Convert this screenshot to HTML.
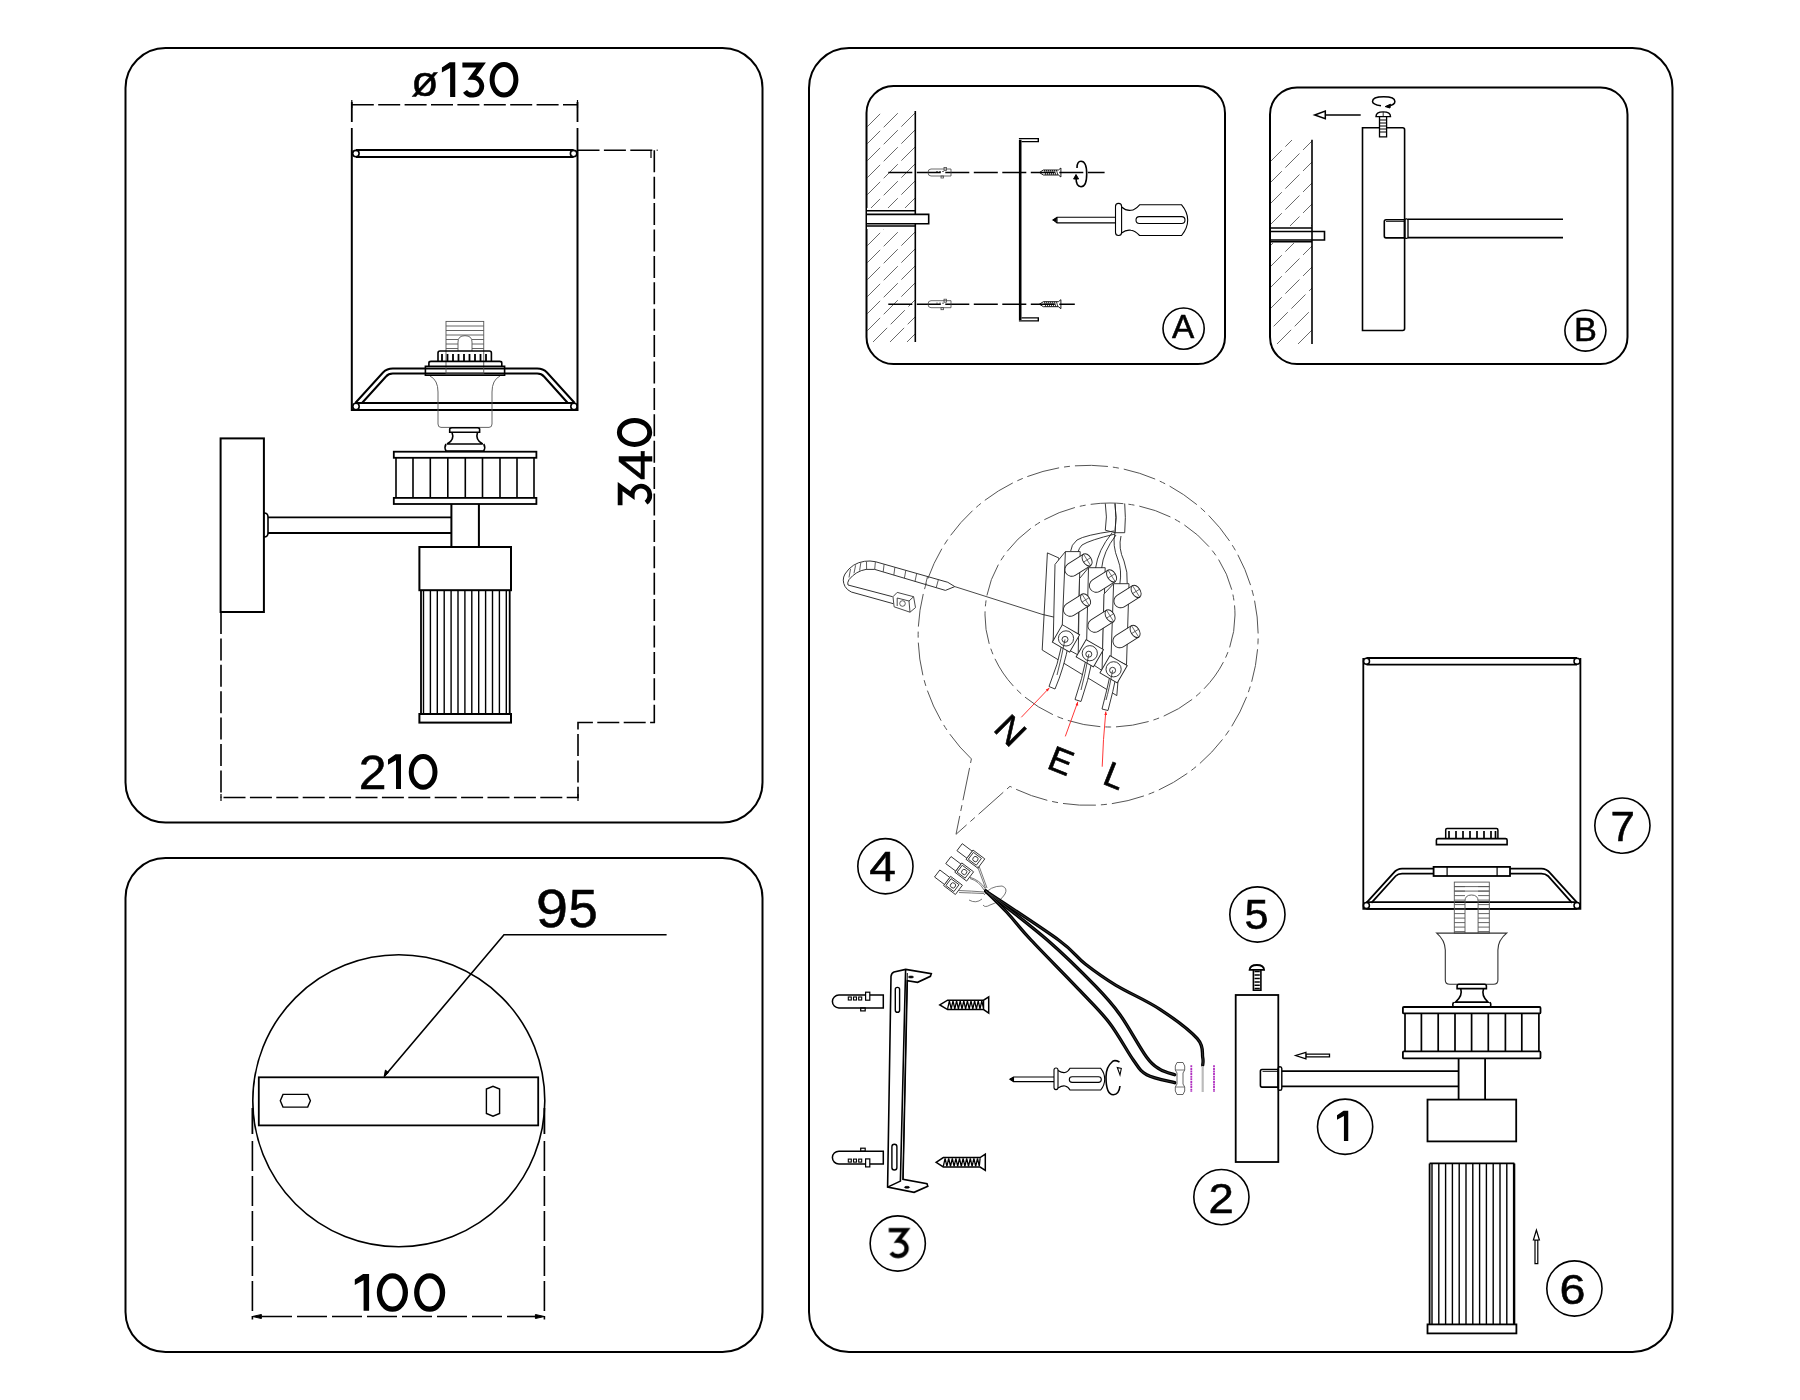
<!DOCTYPE html>
<html><head><meta charset="utf-8">
<style>
html,body{margin:0;padding:0;background:#fff;width:1800px;height:1400px;overflow:hidden}
svg{display:block}
text{font-family:"Liberation Sans",sans-serif}
</style></head>
<body>
<svg width="1800" height="1400" viewBox="0 0 1800 1400">
<rect x="0" y="0" width="1800" height="1400" fill="#fff"/>
<g fill="none" stroke="#000" stroke-width="2">
<!-- panels -->
<rect x="125.5" y="48" width="637" height="774.5" rx="40"/>
<rect x="125.5" y="858" width="637" height="494" rx="40"/>
<rect x="809" y="48" width="863.5" height="1304" rx="40"/>
<rect x="866.5" y="86" width="358.5" height="278" rx="27"/>
<rect x="1270" y="87.5" width="357.5" height="276.5" rx="27"/>
</g>
<!-- PANEL1 -->
<g id="p1">
<g fill="none" stroke="#000" stroke-width="2">
 <!-- dims -->
 <g stroke-width="1.6" stroke-dasharray="22 4.4">
  <path d="M351.8 104.7H577.5"/>
  <path d="M577.5 150.3H657.6"/>
  <path d="M654.3 150.3V722.5H578V797.5H221"/>
  <path d="M221 612V797.5"/>
 </g>
 <path d="M351.8 102V122M351.8 128V150M577.5 102V122M577.5 128V150" stroke-width="1.8"/>
 <path d="M351.8 100V108M577.5 100V108M651 150V158M221 794V801M578 794V801" stroke-width="1.2"/>
 <!-- shade -->
 <path d="M351.8 150V410H577.5V150"/>
 <path d="M355.9 150H573.6M355.9 157H573.6M356 403H574M356 410H574"/>
 <circle cx="355.9" cy="153.6" r="3.2" stroke-width="1.6"/>
 <circle cx="573.6" cy="153.6" r="3.2" stroke-width="1.6"/>
 <circle cx="356" cy="406.5" r="3.2" stroke-width="1.6"/>
 <circle cx="574" cy="406.5" r="3.2" stroke-width="1.6"/>
 <!-- gallery -->
 <path d="M355.3 403L383 372.5Q387 368.6 392.8 368.6H537.2Q543 368.6 547 372.5L574.7 403"/>
 <path d="M362 403L386 376.5Q388.5 373.6 392.8 373.6H537.2Q541.5 373.6 544 376.5L567.8 403"/>
 <!-- socket -->
 <g stroke="#555" stroke-width="0.9">
  <rect x="446" y="321.4" width="37.75" height="51.8"/>
  <path d="M446 326H483.75M446 330.5H483.75M446 335H483.75M446 339.5H458M472 339.5H483.75M446 344H458M472 344H483.75M446 348.5H458M472 348.5H483.75"/>
  <path d="M458 351V342Q458 335.7 465 335.7Q472 335.7 472 342V351"/>
  <path d="M430 376Q438 380 438 392V424Q438 427.4 441 427.4H489Q492 427.4 492 424V392Q492 380 500 376"/>
 </g>
 <path d="M438 361.4V353Q438 351 440 351H489.4Q491.4 351 491.4 353V361.4" stroke-width="1.6"/>
 <path d="M442 361V354M447.5 361V354M453 361V354M458.5 361V354M464 361V354M469.5 361V354M475 361V354M480.5 361V354M486 361V354" stroke-width="1.8"/>
 <path d="M428.9 366.2V363Q428.9 361.4 431 361.4H499.7Q501.8 361.4 501.8 363V366.2" stroke-width="1.6"/>
 <path d="M425.4 366.2H504.6V375.3H425.4Z" stroke-width="1.6"/>
 <!-- knob -->
 <path d="M449.7 432.2V429Q449.7 427.8 452 427.8H477.5Q479.6 427.8 479.6 429V432.2ZM452 432.2Q455 440 447 444H482.75Q475 440 477.5 432.2M446 444Q444 447.5 446 451H483.75Q485.75 447.5 483.75 444" stroke-width="1.6"/>
 <!-- crown -->
 <rect x="393.8" y="451.7" width="142.6" height="6.1" stroke-width="1.8"/>
 <rect x="393.8" y="497.9" width="142.6" height="6.1" stroke-width="1.8"/>
 <path d="M396 457.8V497.9M534 457.8V497.9M413 457.8V497.9M430.3 457.8V497.9M447.8 457.8V497.9M465.3 457.8V497.9M482.5 457.8V497.9M500 457.8V497.9M517 457.8V497.9" stroke-width="1.6"/>
 <!-- backplate & arm -->
 <rect x="220.6" y="438.4" width="43.3" height="173.6"/>
 <path d="M264 513Q268 513 268 517V533Q268 537 264 537" stroke-width="1.6"/>
 <path d="M268 517.3H451.4M268 533H451.4" stroke-width="1.8"/>
 <path d="M451.4 504V547M478.9 504V547"/>
 <rect x="419.4" y="547" width="91.6" height="43.2"/>
 <rect x="419.4" y="714" width="91.6" height="8.6"/>
 <path d="M421 590.2V714M509.7 590.2V714" stroke-width="1.8"/>
 <path d="M423.5 590V714M430.4 590V714M437.3 590V714M444.2 590V714M451.1 590V714M458 590V714M464.9 590V714M471.8 590V714M478.7 590V714M485.6 590V714M492.5 590V714M499.4 590V714M506.3 590V714" stroke-width="1.4"/>
</g>
<g fill="#000" font-size="47">
 
 
 
</g>
</g>
<!-- PANEL2 -->
<g id="p2">
<g fill="none" stroke="#000" stroke-width="1.6">
 <circle cx="398.8" cy="1100.8" r="146"/>
 <rect x="258.8" y="1077.3" width="279.4" height="48.1" fill="#fff" stroke-width="1.8"/>
 <path d="M283 1094.4H307.7L310.4 1100.75L307.7 1107.1H283L280.3 1100.75Z" stroke-width="1.4"/>
 <path d="M486.4 1089V1113.5L493 1116.2L499.6 1113.5V1089L493 1086.3Z" stroke-width="1.4"/>
 <path d="M384.2 1076.6L504 934.8H666.6" stroke-width="1.6"/>
 <path d="M384.2 1076.6l1.2 -6.5l3 2.5z" fill="#000" stroke-width="1"/>
 <g stroke-width="1.6" stroke-dasharray="30 5">
  <path d="M252.4 1141V1319.6M544.4 1141V1319.6"/>
  <path d="M258 1316.5H540" stroke-dashoffset="-4"/>
 </g>
 <path d="M252.4 1108V1134M544.4 1108V1134" stroke-width="1.8"/>
 <path d="M252.4 1316.5l9 -2v4zM544.4 1316.5l-9 -2v4z" fill="#000" stroke-width="1"/>
</g>
<g fill="#000" font-size="52">
 
 
</g>
</g>
<!-- PANEL A -->
<g id="pA">
<defs><clipPath id="clipA"><rect x="867" y="111" width="48" height="231"/></clipPath><clipPath id="clipB"><rect x="1271" y="140" width="41" height="204"/></clipPath></defs>
<g fill="none" stroke="#000">
 <path d="M866.0 128.0L883.0 111.0M866.0 145.0L900.0 111.0M866.0 162.0L915.0 113.0M866.0 179.0L915.0 130.0M866.0 196.0L915.0 147.0M866.0 213.0L915.0 164.0M866.0 230.0L915.0 181.0M866.0 247.0L915.0 198.0M866.0 264.0L915.0 215.0M866.0 281.0L915.0 232.0M866.0 298.0L915.0 249.0M866.0 315.0L915.0 266.0M866.0 332.0L915.0 283.0M873.0 342.0L915.0 300.0M890.0 342.0L915.0 317.0M907.0 342.0L915.0 334.0" stroke="#444" stroke-width="0.8" stroke-dasharray="20 5" clip-path="url(#clipA)"/>
 <rect x="867" y="208" width="62" height="21" fill="#fff" stroke="none"/>
 <path d="M915.3 111V342" stroke-width="1.6"/>
 <path d="M867 210.8H915.3M867 226H915.3" stroke-width="1.5"/>
 <path d="M867 214.4H928.7V223.7H867" stroke-width="1.6" fill="#fff"/>
 <path d="M888.3 172.5H1104.6M888.3 304.2H1074.8" stroke-width="1.6" stroke-dasharray="24 4.5"/>
 <g stroke-width="0.8" stroke="#444"><path d="M931 169.0H951V176.0H931Q928 176.0 928 172.5Q928 169.0 931 169.0Z"/><path d="M936 171.5h2M939 171.5h2M942 171.5h2"/><rect x="944" y="167.5" width="2.5" height="3"/><rect x="941" y="176.0" width="2.5" height="2"/></g>
 <g stroke-width="0.8" stroke="#444"><path d="M931 300.7H951V307.7H931Q928 307.7 928 304.2Q928 300.7 931 300.7Z"/><path d="M936 303.2h2M939 303.2h2M942 303.2h2"/><rect x="944" y="299.2" width="2.5" height="3"/><rect x="941" y="307.7" width="2.5" height="2"/></g>
 <path d="M1020.2 139.8V320" stroke-width="2.6"/><path d="M1018.9 138.6H1038.3V141.6H1021.5M1018.9 320.9H1038.3V317.9H1021.5" stroke-width="1.4"/>
 <g stroke-width="0.9"><path d="M1039.4 172.5L1043.4 170.0H1058.4L1060.9 168.0V177.0L1058.4 175.0H1043.4Z"/><path d="M1044.4 170.0l1.5 5M1046.4 170.0l1.5 5M1048.4 170.0l1.5 5M1050.4 170.0l1.5 5M1052.4 170.0l1.5 5M1054.4 170.0l1.5 5M1056.4 170.0l1.5 5" stroke-width="0.8"/></g>
 <g stroke-width="0.9"><path d="M1039.4 304.2L1043.4 301.7H1058.4L1060.9 299.7V308.7L1058.4 306.7H1043.4Z"/><path d="M1044.4 301.7l1.5 5M1046.4 301.7l1.5 5M1048.4 301.7l1.5 5M1050.4 301.7l1.5 5M1052.4 301.7l1.5 5M1054.4 301.7l1.5 5M1056.4 301.7l1.5 5" stroke-width="0.8"/></g>
 <path d="M1077 168Q1077 161.3 1081 161.3Q1086.7 161.3 1086.7 174Q1086.7 186.7 1081 186.7Q1076 186.7 1076 177" stroke-width="1.6"/>
 <path d="M1073.6 179L1076 174.5L1078.6 179Z" fill="#000" stroke-width="1"/>
 <!-- screwdriver -->
 <g stroke-width="1.1">
  <path d="M1053.1 219.9L1057 217.2H1115.5M1053.1 219.9L1057 222.9H1115.5M1057 217.2V222.9"/>
  <path d="M1053.1 219.9l3 -1.3v2.6z" fill="#000"/>
  <rect x="1115.5" y="203.4" width="6.1" height="32.1" rx="3"/>
  <path d="M1121.6 207Q1126 211 1131 210.3Q1135 210 1139.6 204.8H1181.6Q1187.7 212 1187.7 220Q1187.7 228 1181.6 235.5H1139.6Q1135 230.6 1131 230.3Q1126 229.5 1121.6 233"/>
  <rect x="1136" y="216.6" width="49" height="6.9" rx="3.45"/>
 </g>
 
</g>

</g>
<!-- PANEL B -->
<g id="pB">
<g fill="none" stroke="#000">
 <path d="M1250.0 161.0L1271.0 140.0M1250.0 182.0L1292.0 140.0M1250.0 203.0L1312.0 141.0M1250.0 224.0L1312.0 162.0M1250.0 245.0L1312.0 183.0M1250.0 266.0L1312.0 204.0M1250.0 287.0L1312.0 225.0M1250.0 308.0L1312.0 246.0M1250.0 329.0L1312.0 267.0M1256.0 344.0L1312.0 288.0M1277.0 344.0L1312.0 309.0M1298.0 344.0L1312.0 330.0" stroke="#444" stroke-width="0.8" stroke-dasharray="20 5" clip-path="url(#clipB)"/>
 <rect x="1271" y="226" width="54" height="17" fill="#fff" stroke="none"/>
 <path d="M1312 139.8V344" stroke-width="1.6"/>
 <path d="M1271 228H1312M1271 241.7H1312" stroke-width="1.5"/>
 <path d="M1271 231.5H1324.5V240H1271" stroke-width="1.6"/>
 <path d="M1362.5 330.5V127.7H1402.6Q1404.6 127.7 1404.6 129.7V328.5Q1404.6 330.5 1402.6 330.5Z" stroke-width="1.6"/>
 <path d="M1408 219.3H1563M1408 237.6H1563" stroke-width="1.6"/>
 <path d="M1386 219.7H1404.6V237.9H1386Q1384.3 237.9 1384.3 236V221.6Q1384.3 219.7 1386 219.7Z" stroke-width="1.6"/>
 <rect x="1404.6" y="218.8" width="3.4" height="19.6" rx="1.5" stroke-width="1.3"/>
 <path d="M1386 221.5H1404.6" stroke-width="0.8"/>
 <!-- screw -->
 <path d="M1379.5 116.6V136.9H1386.6V116.6" stroke-width="1.3" fill="#fff"/>
 <path d="M1379.5 120H1386.6M1379.5 123H1386.6M1379.5 126H1386.6M1379.5 129H1386.6M1379.5 132H1386.6" stroke-width="1.2"/>
 <path d="M1376 116.6Q1376 111.9 1383.2 111.9Q1390.5 111.9 1390.5 116.6Z" stroke-width="1.4" fill="#fff"/>
 <path d="M1383.2 112V116.6" stroke-width="0.8"/>
 <path d="M1381 105.8Q1372.5 104.5 1372.5 101.5Q1372.5 96.8 1383.7 96.8Q1394.9 96.8 1394.9 101.5Q1394.9 105 1388 106" stroke-width="1.5"/>
 <path d="M1385.2 106.6L1390.5 104.2L1390 108Z" fill="#000" stroke-width="1"/>
 <!-- arrow -->
 <path d="M1360.7 115H1325.3" stroke-width="1.6"/>
 <path d="M1325.3 111V118.6L1314.7 115Z" stroke-width="1.5" fill="#fff"/>
 
</g>

</g>
<!-- BUBBLE -->
<g id="bubble">
<g fill="none" stroke="#333" stroke-width="1">
 <!-- outer bubble -->
 <path d="M971.4 758.9A170 170 0 1 1 1010 786.3L956 834.3Z" stroke="#555" stroke-dasharray="33 5 6 5"/>
 <ellipse cx="1110" cy="615" rx="125" ry="112" stroke="#555" stroke-dasharray="33 5 6 5"/>
 <!-- cable tie -->
 <path d="M954.8 586.6L947.8 582.3L875.4 561.7Q870 560.5 864.6 561.3Q852 563 845 574Q841.5 580 845.1 586.6Q847 590 851.3 592L893.3 603.7" />
 <path d="M954.8 586.6L945.4 590.4L874.7 569.4H866.1Q856 571 849 579.6Q847 583 848 585L892.6 596.7"/>
 <path d="M875.4 561.7L874.7 569.4M884.1 564.2L883.2 571.9M894.9 567.3L893.8 575.1M905.8 570.4L904.4 578.2M916.7 573.4L915.0 581.4M927.5 576.5L925.6 584.5M938.4 579.6L936.2 587.7M866.5 561.8L866.6 569.4M860.8 562.8L859.6 570.6M855.6 565.3L854 573.3M850.5 569L849 577.5" stroke-width="0.8"/>
 <path d="M893 596.7L897.2 592.4L913.6 596.7L915.5 607.6L910 612.2L894.1 606.8ZM913.6 596.7L909 601L910 612.2M897.2 598V606M909 601L897.2 598" stroke-width="0.9"/>
 <circle cx="902.5" cy="603.5" r="2.8" stroke-width="0.8"/>
 <path d="M954.8 586.6L1042 614.3" stroke-width="0.9"/>
 <!-- terminal block -->
 <g stroke="#222" stroke-width="0.9" fill="#fff">
  <path d="M1047.4 552.9L1058.9 558L1053.2 641.6L1080 656L1118 681L1116.8 695.6L1042.2 650Z"/>
 </g>
 <path d="M1042 614.3L1076 622.3" stroke="#222" stroke-width="0.9"/>
 <g stroke="#222" stroke-width="0.9" fill="#fff">
  <path d="M1055 564.4L1065.4 551.6H1080.2L1078.2 635.2L1062.2 627.5L1053.2 641.6Z"/>
  <path d="M1065.4 551.6L1062.2 627.5"/>
  <path d="M1079.5 578.6L1088.5 567.7H1105.2L1102.7 651.9L1086.6 642.9L1078.2 655.8Z"/>
  <path d="M1088.5 567.7L1086.6 642.9"/>
  <path d="M1104 594L1113.6 583.7H1129L1126.5 664.8L1111 658.3L1102 672.5Z"/>
  <path d="M1113.6 583.7L1111 658.3"/>
  <g transform="translate(1076.5 566.5) rotate(-32)"><path d="M12.5 -6.75H-5.75A6.75 6.75 0 0 0 -5.75 6.75H12.5Z"/><ellipse cx="12.5" cy="0" rx="4.2" ry="6.75"/><path d="M8.3 0H16.7M12.5 -6.75V6.75" stroke-width="0.6"/></g>
  <g transform="translate(1075 606.5) rotate(-32)"><path d="M12.5 -6.75H-5.75A6.75 6.75 0 0 0 -5.75 6.75H12.5Z"/><ellipse cx="12.5" cy="0" rx="4.2" ry="6.75"/><path d="M8.3 0H16.7M12.5 -6.75V6.75" stroke-width="0.6"/></g>
  <g transform="translate(1101 582.5) rotate(-32)"><path d="M12.5 -6.75H-5.75A6.75 6.75 0 0 0 -5.75 6.75H12.5Z"/><ellipse cx="12.5" cy="0" rx="4.2" ry="6.75"/><path d="M8.3 0H16.7M12.5 -6.75V6.75" stroke-width="0.6"/></g>
  <g transform="translate(1099.5 622.5) rotate(-32)"><path d="M12.5 -6.75H-5.75A6.75 6.75 0 0 0 -5.75 6.75H12.5Z"/><ellipse cx="12.5" cy="0" rx="4.2" ry="6.75"/><path d="M8.3 0H16.7M12.5 -6.75V6.75" stroke-width="0.6"/></g>
  <g transform="translate(1125.5 598) rotate(-32)"><path d="M12.5 -6.75H-5.75A6.75 6.75 0 0 0 -5.75 6.75H12.5Z"/><ellipse cx="12.5" cy="0" rx="4.2" ry="6.75"/><path d="M8.3 0H16.7M12.5 -6.75V6.75" stroke-width="0.6"/></g>
  <g transform="translate(1124.5 638) rotate(-32)"><path d="M12.5 -6.75H-5.75A6.75 6.75 0 0 0 -5.75 6.75H12.5Z"/><ellipse cx="12.5" cy="0" rx="4.2" ry="6.75"/><path d="M8.3 0H16.7M12.5 -6.75V6.75" stroke-width="0.6"/></g>
  <path d="M1063 640Q1058 665 1049 686.5L1055 689Q1064 668 1069 642"/>
  <path d="M1087 655Q1082 680 1075 699.5L1081 701.5Q1088 682 1093 657"/>
  <path d="M1111 671Q1107 690 1102 709L1108 710.5Q1113 692 1117 672"/>
  <g transform="translate(1066 638.4) rotate(30)"><rect x="-10.0" y="-10.0" width="20" height="20"/></g><circle cx="1066" cy="638.4" r="7.6"/><circle cx="1065" cy="639.4" r="3"/>
  <g transform="translate(1089.8 653.2) rotate(30)"><rect x="-10.0" y="-10.0" width="20" height="20"/></g><circle cx="1089.8" cy="653.2" r="7.6"/><circle cx="1088.8" cy="654.2" r="3"/>
  <g transform="translate(1113.6 669.3) rotate(30)"><rect x="-10.0" y="-10.0" width="20" height="20"/></g><circle cx="1113.6" cy="669.3" r="7.6"/><circle cx="1112.6" cy="670.3" r="3"/>
  <path d="M1065 639.4Q1061 660 1057 675M1088.8 654.2Q1085 675 1081 690M1112.6 670.3Q1109 690 1106 700" stroke-width="0.8"/>
 </g>
 <!-- upper wires -->
 <g stroke="#222" stroke-width="0.9">
  <path d="M1105.3 503.5Q1107.5 517 1105.3 530.2L1115 532.7Q1117 517 1115 503.5M1115 503.5Q1117 517 1115 532.7M1124.7 503.5Q1126 517 1124.7 532.7L1115 532.7"/>
  <path d="M1114 531Q1085 535 1077 540Q1071 545 1070.7 551M1115 534Q1090 540 1082 545Q1079 548 1078 552"/>
  <path d="M1112 533Q1098 550 1095.6 568M1116 535Q1103 552 1101.7 568"/>
  <path d="M1115 533Q1112 545 1118 560Q1122 570 1119.9 583.7M1121 536Q1118 548 1124 561Q1128 572 1127.2 583.7"/>
 </g>
</g>
<!-- red leader lines -->
<g stroke="#ff2020" stroke-width="0.9" fill="none">
 <path d="M1049.3 687.9L1021.3 717.3"/>
 <path d="M1077.8 701.8L1065.3 736.4"/>
 <path d="M1105.8 711.6Q1103 740 1102.2 766.7"/>
</g>
<g fill="#ff2020"><path d="M1049.3 687.9l-3.5 1.5l2 2z"/><path d="M1077.8 701.8l-2.2 3.2l2.6 0.8z"/><path d="M1105.8 711.6l-1.5 3.5h2.8z"/></g>
<g fill="#000" stroke="#000" stroke-width="0.6" font-size="35">
 
 
 
</g>
</g>
<!-- PARTS -->
<g id="parts">
<g fill="none" stroke="#000">
 <!-- connector 4 -->
 <g stroke="#333" stroke-width="0.9" fill="#fff">
  <g transform="translate(975.4 859.1) rotate(37)"><rect x="-7.4" y="-5.8" width="14.8" height="11.6"/><rect x="-5.6" y="-4.2" width="10" height="8.6"/><circle cx="0" cy="0" r="2.6"/><rect x="-19.8" y="-4.4" width="12.4" height="8.8" transform="rotate(0)"/></g>
  <g transform="translate(964.2 872) rotate(37)"><rect x="-7.4" y="-5.8" width="14.8" height="11.6"/><rect x="-5.6" y="-4.2" width="10" height="8.6"/><circle cx="0" cy="0" r="2.6"/><rect x="-19.8" y="-4.4" width="12.4" height="8.8"/></g>
  <g transform="translate(953 885.4) rotate(37)"><rect x="-7.4" y="-5.8" width="14.8" height="11.6"/><rect x="-5.6" y="-4.2" width="10" height="8.6"/><circle cx="0" cy="0" r="2.6"/><rect x="-19.8" y="-4.4" width="12.4" height="8.8"/></g>
 </g>
 <g stroke="#555" stroke-width="0.8">
  <path d="M977.5 866.5L985.5 888M979 866L987 888"/>
  <path d="M969 877Q980 880 985.5 889M970 878.5Q979 881 984 890"/>
  <path d="M959 890.5Q972 891 984 892M959 892.5Q972 893 984 893.5"/>
  <path d="M982 899Q976 904 969 900M984 895Q990 886 1002 886Q1008 888 1005 894Q1000 902 990 905Q985 908 983 905"/>
 </g>
 <!-- long wires -->
 <g stroke-width="3.3" stroke-linecap="round"><path d="M985.7 891C997.9 899.2 1042.0 927.8 1058.6 940.0C1075.2 952.2 1075.7 956.5 1085.3 964.0C1094.9 971.5 1103.5 977.8 1116.0 985.3C1128.5 992.8 1146.5 1000.4 1160.0 1009.3C1173.5 1018.2 1190.2 1030.7 1197.3 1038.7C1204.4 1046.7 1201.8 1052.9 1202.7 1057.3C1203.6 1061.7 1202.7 1064.0 1202.7 1065.3"/><path d="M985.7 891C996.0 899.2 1028.9 924.0 1047.3 940.0C1065.7 956.0 1083.9 974.2 1096.0 986.7C1108.1 999.2 1111.5 1002.9 1120.0 1014.7C1128.5 1026.5 1140.0 1048.2 1146.7 1057.3C1153.4 1066.4 1155.3 1066.4 1160.0 1069.3C1164.7 1072.2 1172.2 1073.8 1174.7 1074.7"/><path d="M985.7 891C989.3 894.6 999.6 904.3 1007.1 912.5C1014.6 920.7 1018.9 927.0 1031.0 940.0C1043.2 953.0 1067.0 976.9 1080.0 990.7C1093.0 1004.5 1100.4 1011.2 1109.3 1022.7C1118.2 1034.2 1127.1 1051.3 1133.3 1060.0C1139.5 1068.7 1139.8 1070.9 1146.7 1074.7C1153.6 1078.5 1170.0 1081.4 1174.7 1082.7"/></g>
 <g stroke-width="0.5" stroke="#666"><path d="M985.7 891C997.9 899.2 1042.0 927.8 1058.6 940.0C1075.2 952.2 1075.7 956.5 1085.3 964.0C1094.9 971.5 1103.5 977.8 1116.0 985.3C1128.5 992.8 1146.5 1000.4 1160.0 1009.3C1173.5 1018.2 1190.2 1030.7 1197.3 1038.7C1204.4 1046.7 1201.8 1052.9 1202.7 1057.3C1203.6 1061.7 1202.7 1064.0 1202.7 1065.3"/><path d="M985.7 891C996.0 899.2 1028.9 924.0 1047.3 940.0C1065.7 956.0 1083.9 974.2 1096.0 986.7C1108.1 999.2 1111.5 1002.9 1120.0 1014.7C1128.5 1026.5 1140.0 1048.2 1146.7 1057.3C1153.4 1066.4 1155.3 1066.4 1160.0 1069.3C1164.7 1072.2 1172.2 1073.8 1174.7 1074.7"/><path d="M985.7 891C989.3 894.6 999.6 904.3 1007.1 912.5C1014.6 920.7 1018.9 927.0 1031.0 940.0C1043.2 953.0 1067.0 976.9 1080.0 990.7C1093.0 1004.5 1100.4 1011.2 1109.3 1022.7C1118.2 1034.2 1127.1 1051.3 1133.3 1060.0C1139.5 1068.7 1139.8 1070.9 1146.7 1074.7C1153.6 1078.5 1170.0 1081.4 1174.7 1082.7"/></g>
 <path d="M1202.7 1066V1092" stroke="#bbb" stroke-width="2.2"/>
 <path d="M1177 1062.5H1183L1184.7 1066V1070L1183 1073V1084L1184.7 1087V1091L1183 1094.5H1177L1175.3 1091V1087L1177 1084V1073L1175.3 1070V1066Z" stroke="#555" stroke-width="0.9" fill="#fff"/>
 <path d="M1175.3 1070H1184.7M1175.3 1087H1184.7" stroke="#555" stroke-width="0.8"/>
 <path d="M1191.3 1065.3V1092M1214 1065.3V1092" stroke="#b030c0" stroke-width="1.8" stroke-dasharray="2 0.6"/>
 <!-- screwdriver 2 -->
 <g stroke-width="1.1">
  <path d="M1010 1079.3L1013.5 1077H1054M1010 1079.3L1013.5 1081.6H1054M1013.5 1077V1081.6"/>
  <path d="M1010 1079.3l2.5 -1.2v2.4z" fill="#000"/>
  <rect x="1054" y="1068" width="4" height="21.6" rx="2"/>
  <path d="M1058 1070.5Q1062 1073 1065 1072.5Q1068 1072 1070 1068.3H1100.7Q1104.7 1073 1104.7 1079.2Q1104.7 1085 1100.7 1090H1070Q1068 1086.5 1065 1086Q1062 1085.5 1058 1088"/>
  <rect x="1069.3" y="1076.7" width="32" height="5.7" rx="2.85"/>
 </g>
 <path d="M1119.5 1062Q1114 1059.3 1112 1062Q1106 1067 1106 1077Q1106 1094.7 1113.3 1094.7Q1119 1094.7 1120 1086" stroke-width="1.6"/>
 <path d="M1117.3 1067.5L1121.3 1068.5L1120 1075Z" stroke-width="1.1" fill="#fff"/>
 <!-- bracket 3 -->
 <g stroke-width="1.6" fill="#fff">
  <path d="M905.6 969.4L931.3 973.7L930.4 976.3L917.6 982.3L907.3 980.6L903 1179.4L927 1183.7L927.8 1186.3L914.1 1192.3L887.6 1187.1L891 976.3Q891.5 973 894 972Z"/>
  <path d="M905.6 969.4L900.4 1181.1L887.6 1187.1" fill="none"/>
  <path d="M907.3 973L903 1179.4" fill="none" stroke-width="1"/>
  <rect x="895.3" y="987.4" width="4.3" height="24.9" rx="2.1" stroke-width="1.4"/>
  <rect x="891.9" y="1144.3" width="5" height="25.7" rx="2.5" stroke-width="1.4"/>
  <ellipse cx="911" cy="977" rx="2.6" ry="1" fill="#000" stroke-width="0.6"/>
  <ellipse cx="907" cy="1187.3" rx="2.6" ry="1" fill="#000" stroke-width="0.6"/>
 </g>
 <path d="M838.9 995.1H883.3V1007.9H838.9A6.5 6.4 0 0 1 838.9 995.1Z" stroke-width="1.5"/><rect x="848.3" y="997.0" width="3" height="3" stroke-width="1.1"/><rect x="853.5" y="997.0" width="3" height="3" stroke-width="1.1"/><rect x="858.7" y="997.0" width="3" height="3" stroke-width="1.1"/><rect x="865.6" y="992.2" width="4.2" height="8" stroke-width="1.2" fill="#fff"/><rect x="860.7" y="1007.9" width="4.5" height="3" stroke-width="1.2"/>
 <path d="M838.9 1151.1999999999998H883.3V1164.0H838.9A6.5 6.4 0 0 1 838.9 1151.1999999999998Z" stroke-width="1.5"/><rect x="848.3" y="1159.1" width="3" height="3" stroke-width="1.1"/><rect x="853.5" y="1159.1" width="3" height="3" stroke-width="1.1"/><rect x="858.7" y="1159.1" width="3" height="3" stroke-width="1.1"/><rect x="865.6" y="1158.9" width="4.2" height="8" stroke-width="1.2" fill="#fff"/><rect x="860.7" y="1148.2" width="4.5" height="3" stroke-width="1.2"/>
 <path d="M939.8 1004.9L947.6 1000.1999999999999H983.6L988.7 996.8V1013.0L983.6 1009.6H947.6Z" stroke-width="1.5"/><path d="M947.6 1008.9L949.4 1000.9L951.2 1008.9L953.0 1000.9L954.8 1008.9L956.6 1000.9L958.4 1008.9L960.2 1000.9L962.0 1008.9L963.8 1000.9L965.6 1008.9L967.4 1000.9L969.2 1008.9L971.0 1000.9L972.8 1008.9L974.6 1000.9L976.4 1008.9L978.2 1000.9L980.0 1008.9L981.8 1000.9L983.6 1008.9L983.6 1000.9" stroke-width="1.3"/>
 <path d="M936.1 1162.3L943.3 1157.6H980.1L985.3 1154.2V1170.3999999999999L980.1 1167.0H943.3Z" stroke-width="1.5"/><path d="M943.3 1166.3L945.1 1158.3L946.9 1166.3L948.7 1158.3L950.5 1166.3L952.3 1158.3L954.1 1166.3L955.9 1158.3L957.7 1166.3L959.5 1158.3L961.3 1166.3L963.1 1158.3L964.9 1166.3L966.7 1158.3L968.5 1166.3L970.3 1158.3L972.1 1166.3L973.9 1158.3L975.7 1166.3L977.5 1158.3L979.3 1166.3L980.1 1158.3" stroke-width="1.3"/>
 <!-- backplate 2 & screw 5 -->
 <rect x="1235.7" y="995" width="42.6" height="167" stroke-width="1.8"/>
 <path d="M1253.4 969.8V990.2H1260.9V969.8" stroke-width="1.6" fill="#fff"/>
 <path d="M1254.5 971.5H1259.8M1254.5 975H1259.8M1254.5 978.5H1259.8M1254.5 982H1259.8M1254.5 985.3H1259.8M1254.5 988.5H1259.8" stroke-width="1.5"/>
 <path d="M1249.6 969.8Q1250 965 1256.9 965Q1263.8 965 1264.1 969.8Z" stroke-width="1.8" fill="#fff"/>
 <!-- arm -->
 <path d="M1281.8 1071.1H1458.6M1281.8 1086.4H1458.6" stroke-width="1.6"/>
 <path d="M1262 1069.5H1278.3V1087.1H1262Q1260.4 1087.1 1260.4 1085.3V1071.3Q1260.4 1069.5 1262 1069.5Z" stroke-width="1.6"/>
 <path d="M1262.5 1071.5H1278" stroke-width="0.8"/>
 <rect x="1278.2" y="1066.8" width="3.6" height="23.6" rx="1.8" stroke-width="1.4"/>
 <path d="M1329.5 1054.2H1305.9V1056.8H1329.5Z" stroke-width="1.3"/>
 <path d="M1305.9 1052.3V1058.8L1295.7 1055.5Z" stroke-width="1.3" fill="#fff"/>
 <!-- lamp 7 shade -->
 <path d="M1363.3 658V908.9H1580.4V658" stroke-width="1.8"/>
 <path d="M1366.5 658H1577M1366.5 664.6H1577M1366.4 902.1H1577M1366.4 908.9H1577" stroke-width="1.8"/>
 <circle cx="1366.5" cy="661.3" r="3" stroke-width="1.5"/><circle cx="1577" cy="661.3" r="3" stroke-width="1.5"/>
 <circle cx="1366.4" cy="905.5" r="3" stroke-width="1.5"/><circle cx="1577" cy="905.5" r="3" stroke-width="1.5"/>
 <path d="M1366.4 902.9L1393.6 872.9Q1397 868.6 1402.1 868.6H1541.4Q1546.5 868.6 1550 872.9L1577.1 902.6" stroke-width="1.8"/>
 <path d="M1371.4 902.9L1395.7 876Q1398 873.6 1402.1 873.6H1541.4Q1545.5 873.6 1548 876L1572 902.9" stroke-width="1.8"/>
 <rect x="1433.6" y="866.9" width="76.4" height="9.1" fill="#fff" stroke-width="1.8"/>
 <path d="M1447.1 867V876M1497.1 867V876" stroke-width="1.2"/>
 <!-- small ring -->
 <path d="M1445.7 838.6V830Q1445.7 828.6 1447 828.6H1496.5Q1497.9 828.6 1497.9 830V838.6" stroke-width="1.5"/>
 <path d="M1449 838.2V831M1456 838.2V831M1463 838.2V831M1470 838.2V831M1477 838.2V831M1484 838.2V831M1491 838.2V831M1495.5 838.2V831" stroke-width="1.7"/>
 <path d="M1436.4 844.6V840Q1436.4 838.6 1438 838.6H1505.5Q1507.1 838.6 1507.1 840V844.6Z" stroke-width="1.6"/>
 <!-- socket -->
 <g stroke="#555" stroke-width="0.9">
  <rect x="1454.3" y="882.1" width="35" height="51"/>
  <path d="M1454.3 886.6H1465M1478.1 886.6H1489.3M1454.3 891.1H1465M1478.1 891.1H1489.3M1454.3 895.6H1465M1478.1 895.6H1489.3M1454.3 900.1H1465M1478.1 900.1H1489.3M1454.3 904.6H1465M1478.1 904.6H1489.3M1454.3 909.1H1465M1478.1 909.1H1489.3M1454.3 913.6H1465M1478.1 913.6H1489.3M1454.3 918.1H1465M1478.1 918.1H1489.3M1454.3 922.6H1465M1478.1 922.6H1489.3M1454.3 927.1H1465M1478.1 927.1H1489.3M1454.3 931.6H1465M1478.1 931.6H1489.3"/>
  <path d="M1454.3 886.6H1489.3M1454.3 891.1H1489.3"/>
  <path d="M1465 933V901Q1465 895 1471.5 895Q1478.1 895 1478.1 901V933"/>
 </g>
 <path d="M1436.7 933.1H1506.7Q1498 940 1497.9 950V980Q1497.9 984.3 1493.5 984.3H1449.7Q1445.3 984.3 1445.3 980V950Q1445 940 1436.7 933.1Z" stroke="#333" stroke-width="1.1"/>
 <path d="M1457.1 988.6V986Q1457.1 984.3 1459 984.3H1484.5Q1486.4 984.3 1486.4 986V988.6ZM1460.7 988.6Q1463 996 1455.5 1002.1H1488Q1481 996 1483.6 988.6M1453.6 1002.1Q1452 1004.6 1453.6 1007.1H1490Q1491.6 1004.6 1490 1002.1" stroke-width="1.6"/>
 <!-- crown 7 -->
 <rect x="1402.9" y="1007" width="137.6" height="6.4" rx="1" stroke-width="1.8"/>
 <rect x="1402.9" y="1051.4" width="137.6" height="7" rx="1" stroke-width="1.8"/>
 <path d="M1405 1013.4V1051.4M1421.4 1013.4V1051.4M1438.2 1013.4V1051.4M1455 1013.4V1051.4M1471.6 1013.4V1051.4M1488.3 1013.4V1051.4M1505.4 1013.4V1051.4M1521.8 1013.4V1051.4M1538.9 1013.4V1051.4" stroke-width="1.7"/>
 <path d="M1458.6 1058.4V1099.6M1485.1 1058.4V1099.6" stroke-width="1.8"/>
 <rect x="1427.5" y="1099.6" width="88.7" height="41.8" stroke-width="1.8"/>
 <!-- item 6 -->
 <rect x="1427.5" y="1324.4" width="88.9" height="9" stroke-width="1.8"/>
 <path d="M1429.6 1163.4V1324.4M1514.4 1163.4V1324.4M1429.6 1163.4H1514.4" stroke-width="1.8"/>
 <path d="M1432.0 1163.4V1324.4M1438.8 1163.4V1324.4M1445.6 1163.4V1324.4M1452.4 1163.4V1324.4M1459.2 1163.4V1324.4M1466.0 1163.4V1324.4M1472.8 1163.4V1324.4M1479.6 1163.4V1324.4M1486.4 1163.4V1324.4M1493.2 1163.4V1324.4M1500.0 1163.4V1324.4M1506.8 1163.4V1324.4M1513.6 1163.4V1324.4" stroke-width="1.4"/>
 <path d="M1535 1240V1263.6H1537.8V1240Z" stroke-width="1.2"/>
 <path d="M1533.4 1240H1539.4L1536.4 1230Z" stroke-width="1.2" fill="#fff"/>
</g>
<g fill="#000" stroke="#000" stroke-width="0.5">
 
 
 
 
 
 
 
</g>
</g>
<g id="texts" fill="#000" stroke="#000" font-size="100" opacity="0.999"><text transform="matrix(0.44649 0 0 0.42544 411.28 96.37)" stroke-width="1.26">&#248;</text><path d="M450.11 62.20L455.25 62.20L455.25 96.90L450.11 96.90L450.11 68.10L441.90 72.61L441.90 67.41L449.64 62.20Z" stroke="none"/><path transform="matrix(23.100 0 0 35.000 461 62.6)" d="M0.06 0.069H0.875L0.490 0.420A0.396 0.256 0 1 1 0.173 0.820" fill="none" stroke-width="4.8" vector-effect="non-scaling-stroke" stroke-linejoin="miter"/><ellipse cx="504.00" cy="79.75" rx="11.90" ry="15.35" fill="none" stroke-width="5.0"/><text transform="matrix(0.49891 0 0 0.48857 358.78 788.73)" stroke-width="1.11">2</text><path d="M396.00 754.25L401.00 754.25L401.00 789.00L396.00 789.00L396.00 760.16L388.00 764.67L388.00 759.46L395.54 754.25Z" stroke="none"/><ellipse cx="423.12" cy="771.88" rx="11.88" ry="15.38" fill="none" stroke-width="5.0"/><path transform="matrix(0 -22.800 34.500 0 617.7 506.6)" d="M0.06 0.070H0.874L0.494 0.420A0.395 0.255 0 1 1 0.175 0.820" fill="none" stroke-width="4.8" vector-effect="non-scaling-stroke" stroke-linejoin="miter"/><text transform="matrix(0 -0.55196 0.47929 0 651.52 480.33)" stroke-width="1.07">4</text><ellipse cx="634.55" cy="432.40" rx="15.15" ry="12.00" fill="none" stroke-width="5.0"/><text transform="matrix(0.57553 0 0 0.53451 535.97 926.99)" stroke-width="0.99">9</text><text transform="matrix(0.52604 0 0 0.53214 568.57 926.99)" stroke-width="1.04">5</text><path d="M363.59 1273.90L369.10 1273.90L369.10 1310.80L363.59 1310.80L363.59 1280.17L354.80 1284.97L354.80 1279.44L363.09 1273.90Z" stroke="none"/><ellipse cx="392.40" cy="1292.53" rx="12.95" ry="16.62" fill="none" stroke-width="5.3"/><ellipse cx="429.65" cy="1292.53" rx="12.90" ry="16.62" fill="none" stroke-width="5.3"/><text transform="matrix(0.47941 0 0 0.41714 869.32 881.48)" stroke-width="1.23">4</text><path d="M1343.92 1110.75L1348.25 1110.75L1348.25 1141.00L1343.92 1141.00L1343.92 1115.89L1337.00 1119.83L1337.00 1115.29L1343.53 1110.75Z" stroke="none"/><path transform="matrix(21.250 0 0 30.250 887.5 1228)" d="M0.06 0.069H0.881L0.493 0.420A0.401 0.256 0 1 1 0.170 0.820" fill="none" stroke-width="4.2" vector-effect="non-scaling-stroke" stroke-linejoin="miter"/><text transform="matrix(0.43125 0 0 0.42429 1244.55 928.55)" stroke-width="1.29">5</text><text transform="matrix(0.45543 0 0 0.43143 1208.50 1212.72)" stroke-width="1.24">2</text><text transform="matrix(0.46702 0 0 0.43239 1559.44 1303.79)" stroke-width="1.22">6</text><text transform="matrix(0.43913 0 0 0.42071 1610.58 840.73)" stroke-width="1.28">7</text><text transform="matrix(0.33358 0 0 0.32391 1171.98 337.62)" stroke-width="1.67">A</text><text transform="matrix(0.34352 0 0 0.32391 1573.93 340.62)" stroke-width="1.65">B</text><text transform="translate(992.2 730) rotate(45)" font-size="36.5" stroke-width="0.6">N</text><text transform="translate(1045.7 767.8) rotate(21.8)" font-size="35" stroke-width="0.6">E</text><text transform="translate(1101.3 783.3) rotate(21.8)" font-size="35" stroke-width="0.6">L</text></g>
<g fill="none" stroke="#000" stroke-width="1.6"><circle cx="885.4" cy="866.25" r="27.6"/><circle cx="1345.1" cy="1126.75" r="27.6"/><circle cx="897.75" cy="1243.5" r="27.6"/><circle cx="1257.4" cy="914.5" r="27.6"/><circle cx="1221.4" cy="1197.1" r="27.6"/><circle cx="1574.4" cy="1288.5" r="27.6"/><circle cx="1622.4" cy="825.6" r="27.6"/><circle cx="1183.6" cy="328.6" r="20.6"/><circle cx="1585.4" cy="330.6" r="20.5"/></g>
</svg>
</body></html>
